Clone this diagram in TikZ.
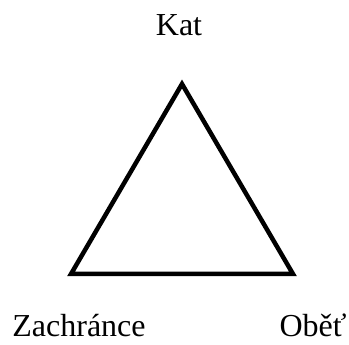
\documentclass[tikz,border=0pt]{standalone}
\usepackage{fontspec}
\setmainfont{Liberation Serif}
\usepackage{tikz}
\usetikzlibrary{positioning}
\tikzset{
  role/.style={anchor=base, inner sep=0pt, font=\fontsize{32}{38}\selectfont},
  side/.style={line width=4.5pt, color=black, line join=miter}
}

\begin{document}
\begin{tikzpicture}[x=1pt, y=1pt]
  \useasboundingbox (0,0) rectangle (349,345);

  % Corners of the triangle
  \coordinate (top) at (182, 261);
  \coordinate (left) at (71, 71);
  \coordinate (right) at (293, 71);

  % Roles
  \node[role] (kat) at (179, 309) {Kat};
  \node[role] (zachrance) at (79, 8) {Zachránce};
  \node[role] (obet) at (313, 8) {Oběť};

  % Sides
  \draw[side] (top) -- (right) -- (left) -- cycle;
\end{tikzpicture}
\end{document}
